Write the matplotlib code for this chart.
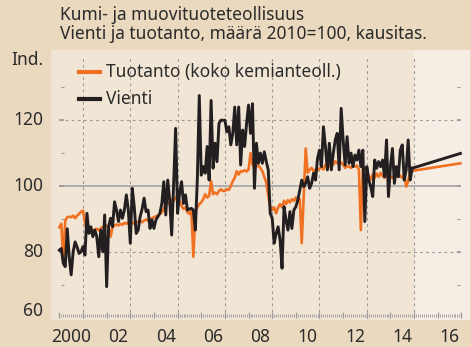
import numpy as np
import matplotlib.pyplot as plt

# Kuukausisarjat 2000-2014, 2010=100
tuotanto = [
    87.5, 88.5, 77.0, 89.5, 90.5, 90.7, 90.5, 91.0, 90.2, 91.0, 91.5, 92.2,   # 2000
    92.5, 89.0, 86.5, 86.8, 87.0, 86.3, 86.8, 87.0, 86.5, 87.2, 87.5, 87.8,   # 2001
    88.0, 87.5, 84.6, 87.5, 88.0, 88.3, 88.0, 88.5, 88.2, 88.8, 88.5, 89.0,   # 2002
    88.8, 89.0, 88.5, 89.2, 89.0, 89.3, 89.0, 89.5, 89.8, 89.5, 90.0, 90.2,   # 2003
    90.5, 90.8, 91.0, 91.5, 92.0, 93.0, 94.5, 95.0, 94.5, 96.0, 95.5, 96.5,   # 2004
    96.0, 95.5, 94.0, 93.0, 93.5, 92.0, 91.5, 92.5, 78.5, 92.0, 93.5, 94.5,   # 2005
    95.0, 96.0, 97.5, 96.5, 97.0, 101.5, 97.5, 98.0, 97.5, 98.5, 99.0, 98.5,  # 2006
    98.5, 99.0, 98.8, 100.0, 101.5, 102.5, 104.5, 103.5, 104.5, 104.4, 104.8, 104.4,  # 2007
    105.0, 110.0, 106.5, 105.5, 106.0, 106.2, 105.5, 104.5, 102.8, 101.0, 97.0, 93.7,  # 2008
    92.7, 93.5, 91.7, 93.5, 94.5, 93.5, 95.5, 94.5, 95.7, 95.0, 96.0, 95.5,   # 2009
    96.5, 95.0, 96.0, 82.6, 97.0, 111.4, 104.0, 104.9, 105.5, 104.5, 105.0, 104.8,  # 2010
    105.2, 106.0, 105.0, 106.5, 105.5, 106.0, 107.0, 106.5, 107.5, 107.0, 106.5, 107.2,  # 2011
    106.5, 105.5, 106.0, 105.9, 105.5, 106.5, 105.9, 106.2, 105.0, 86.6, 106.0, 104.9,  # 2012
    104.9, 103.0, 102.0, 103.5, 102.5, 103.8, 102.8, 104.0, 103.0, 102.5, 103.5, 102.2,  # 2013
    103.0, 102.5, 103.5, 102.8, 104.0, 103.0, 102.5, 103.5, 99.8, 101.5, 104.4, 104.6,  # 2014
]
vienti = [
    80.5, 81.0, 76.5, 75.5, 87.0, 78.5, 73.0, 80.0, 83.0, 81.5, 79.5, 80.0,   # 2000
    81.6, 79.0, 91.7, 85.6, 87.6, 84.6, 86.6, 84.6, 78.5, 86.6, 80.0, 91.2,   # 2001
    69.4, 87.6, 90.2, 87.6, 95.2, 92.7, 89.2, 92.7, 90.2, 92.7, 97.3, 92.7,   # 2002
    82.6, 99.3, 93.7, 85.6, 86.6, 90.7, 93.0, 96.3, 92.2, 92.7, 87.1, 89.7,   # 2003
    87.1, 89.7, 90.7, 91.7, 94.7, 101.3, 91.2, 101.8, 95.7, 85.1, 100.8, 117.5,  # 2004
    91.7, 97.8, 101.3, 94.7, 97.3, 92.7, 93.0, 93.2, 92.7, 86.6, 101.8, 127.5,  # 2005
    103.3, 105.9, 103.9, 112.0, 101.8, 126.0, 105.4, 113.0, 107.4, 119.0, 120.0, 120.0,  # 2006
    120.0, 116.5, 118.0, 112.5, 116.0, 124.0, 112.5, 124.0, 106.4, 117.0, 112.0, 119.0,  # 2007
    124.6, 116.0, 125.0, 99.3, 113.0, 106.9, 110.0, 106.9, 110.4, 107.4, 104.9, 91.7,  # 2008
    90.2, 82.6, 85.6, 87.6, 83.6, 75.0, 93.7, 89.7, 86.6, 92.2, 87.1, 92.7,   # 2009
    93.7, 95.7, 98.8, 101.8, 99.8, 100.8, 102.8, 99.3, 100.8, 103.9, 101.8, 108.4,  # 2010
    110.9, 105.9, 118.0, 112.0, 104.9, 113.0, 104.9, 110.0, 114.0, 116.0, 104.9, 123.6,  # 2011
    114.0, 106.4, 115.0, 106.9, 110.0, 105.9, 109.4, 107.9, 110.9, 105.9, 110.9, 89.2,  # 2012
    105.9, 101.8, 99.8, 96.8, 107.9, 105.4, 107.4, 105.9, 107.9, 102.8, 114.0, 96.8,  # 2013
    105.9, 111.4, 100.8, 105.9, 102.8, 110.9, 112.5, 101.8, 104.9, 114.0, 101.8, 105.4,  # 2014
]
# ennuste 2015-2016 (suora viiva)
ennuste_aika = [2014 + 11 / 12, 2016 + 11.5 / 12]
tuotanto_ennuste = [104.6, 106.9]
vienti_ennuste = [105.4, 109.9]

y_labels = [120, 100, 80, 60]
x_labels = ["2000", "02", "04", "06", "08", "10", "12", "14", "16"]

BG = "#EAD9BF"
PANEL = "#F1E6D5"
FORECAST = "#F6EEE5"
ORANGE = "#F07122"
BLACK = "#231F20"
GRID = "#9A9A9A"
TEXT = "#2B2B2B"

plt.rcParams["font.family"] = ["Noto Sans", "DejaVu Sans"]

W, H = 471, 347
fig = plt.figure(figsize=(W / 100, H / 100), dpi=100)
fig.patch.set_facecolor(BG)


def px(x, y):
    return x / W, 1 - y / H


ax = fig.add_axes([51 / W, 1 - 320 / H, 419 / W, 270 / H])
ax.set_facecolor(PANEL)
for s in ax.spines.values():
    s.set_visible(False)
ax.set_xticks([])
ax.set_yticks([])
x0, x1 = 1999.647, 2017.364
ax.set_xlim(x0, x1)
ax.set_ylim(59.27, 141.34)

ax.axvspan(2015, x1, color=FORECAST, lw=0, zorder=0)

# apuviivat
dash = (0, (2.5, 3))
for yr in range(2001, 2016, 2):
    ax.vlines(yr, 60, 139, colors=GRID, linestyles=dash, lw=0.8, zorder=1)
ax.hlines([80, 120], 2000, 2017, colors=GRID, linestyles=dash, lw=0.8, zorder=1)
ax.hlines(100, 2000, 2017, colors="#A8A8A8", lw=1.3, zorder=1)
for v in [80, 100, 120]:
    ax.hlines(v, 2000, 2000.2, colors=GRID, lw=1.2, zorder=1)
    ax.hlines(v, 2016.8, 2017, colors=GRID, lw=1.2, zorder=1)
for v in [70, 90, 110, 130]:
    ax.hlines(v, 2000.05, 2000.2, colors=GRID, lw=0.8, zorder=1)
    ax.hlines(v, 2016.8, 2016.95, colors=GRID, lw=0.8, zorder=1)

# kuukausi- ja vuosimerkit alareunassa
ax.vlines(np.arange(2000, 2017 + 1e-6, 1 / 12), 60.3, 61.2, colors=GRID, lw=0.6, zorder=1)
ax.vlines(np.arange(2000, 2018), 59.8, 61.8, colors=GRID, lw=0.9, zorder=1)

t = 2000 + np.arange(len(tuotanto)) / 12
ax.plot(t, tuotanto, color=ORANGE, lw=1.9, solid_joinstyle="round", zorder=3)
ax.plot(ennuste_aika, tuotanto_ennuste, color=ORANGE, lw=1.9, zorder=3)
ax.plot(t, vienti, color=BLACK, lw=2.1, solid_joinstyle="round", zorder=4)
ax.plot(ennuste_aika, vienti_ennuste, color=BLACK, lw=2.1, zorder=4)

# otsikko
fs = 12.5
fig.text(*px(60, 20.5), "Kumi- ja muovituoteteollisuus", fontsize=fs, color=TEXT, va="baseline")
fig.text(*px(60, 39), "Vienti ja tuotanto, määrä 2010=100, kausitas.", fontsize=fs, color=TEXT,
         va="baseline")

# selite
ax_leg = [("Tuotanto (koko kemianteoll.)", ORANGE, 71.5, 77.5), ("Vienti", BLACK, 98.5, 104)]
for label, col, yl, yb in ax_leg:
    fig.add_artist(plt.Line2D([79 / W, 100 / W], [1 - yl / H] * 2, color=col, lw=3))
    fig.text(*px(106, yb), label, fontsize=fs, color=TEXT, va="baseline")

# y-akselin tekstit
for v, yp in zip(y_labels, [120, 186, 251.7, 310.5]):
    fig.text(*px(43.5, yp), str(v), fontsize=fs, color=TEXT, ha="right", va="center")
fig.text(*px(43.5, 60), "Ind.", fontsize=fs, color=TEXT, ha="right", va="center")

# x-akselin tekstit vuoden puoliväliin
for i, lab in enumerate(x_labels):
    xp = 59.35 + 23.65 * (2 * i + 0.5)
    fig.text(*px(xp, 337.5), lab, fontsize=fs, color=TEXT, ha="center", va="center")

fig.savefig("out.png", dpi=100, facecolor=BG)
